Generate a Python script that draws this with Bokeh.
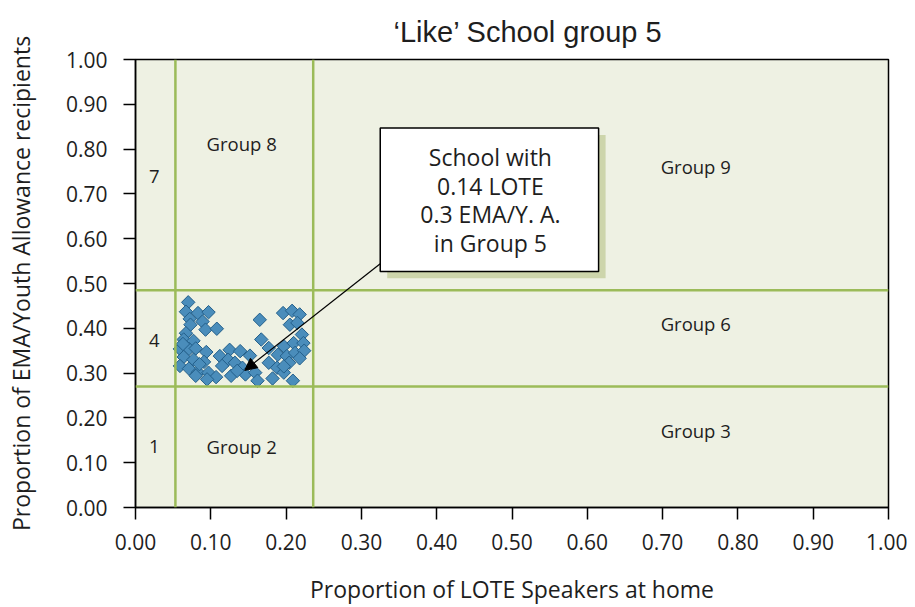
from bokeh.plotting import figure
from bokeh.models import (Range1d, FixedTicker, NumeralTickFormatter, Span, Arrow,
                          NormalHead, ColumnDataSource)
from bokeh.core.properties import value
from bokeh.embed import file_html
from bokeh.resources import INLINE

# ---- data ----
lote = [0.070, 0.067, 0.083, 0.097, 0.072, 0.089, 0.093, 0.108, 0.073, 0.067,
        0.064, 0.077, 0.059, 0.071, 0.080, 0.094, 0.064, 0.077, 0.091, 0.059,
        0.071, 0.083, 0.097, 0.107, 0.095, 0.080, 0.112, 0.125, 0.139, 0.152,
        0.123, 0.115, 0.132, 0.142, 0.127, 0.146, 0.159, 0.162, 0.165, 0.167,
        0.177, 0.177, 0.188, 0.182, 0.197, 0.209, 0.196, 0.208, 0.218, 0.205,
        0.215, 0.221, 0.197, 0.210, 0.223, 0.189, 0.201, 0.212, 0.224, 0.218,
        0.204, 0.063, 0.085, 0.135, 0.197]
ema = [0.458, 0.437, 0.434, 0.436, 0.421, 0.415, 0.397, 0.399, 0.408, 0.389,
       0.375, 0.372, 0.354, 0.354, 0.355, 0.347, 0.336, 0.330, 0.325, 0.316,
       0.310, 0.302, 0.301, 0.291, 0.286, 0.294, 0.338, 0.352, 0.349, 0.339,
       0.330, 0.316, 0.323, 0.312, 0.294, 0.297, 0.301, 0.283, 0.419, 0.375,
       0.356, 0.323, 0.312, 0.288, 0.301, 0.283, 0.434, 0.439, 0.431, 0.408,
       0.412, 0.386, 0.360, 0.367, 0.367, 0.341, 0.338, 0.345, 0.350, 0.333,
       0.323, 0.365, 0.320, 0.305, 0.315]

lote_cuts = [0.053, 0.236]
ema_cuts = [0.27, 0.485]

region_labels = ["Group 8", "7", "Group 9", "4", "Group 6", "1", "Group 2", "Group 3"]
region_x = [0.141, 0.025, 0.744, 0.025, 0.744, 0.025, 0.141, 0.744]
region_y = [0.812, 0.739, 0.761, 0.372, 0.411, 0.137, 0.137, 0.171]

tick_values = [0.0, 0.1, 0.2, 0.3, 0.4, 0.5, 0.6, 0.7, 0.8, 0.9, 1.0]

callout_lines = ["School with", "0.14 LOTE", "0.3 EMA/Y. A.", "in Group 5"]
callout_box = dict(left=0.325, right=0.615, top=0.847, bottom=0.527)
callout_point = (0.145, 0.306)

FONT = "Open Sans"
TXT = "#1e1e1e"

p = figure(width=907, height=607, output_backend="svg", toolbar_location=None,
           x_range=Range1d(0, 1), y_range=Range1d(0, 1),
           min_border_left=135, min_border_right=19, min_border_top=59, min_border_bottom=96,
           title="\u2018Like\u2019 School group 5")
p.background_fill_color = "#eef1e3"
p.border_fill_color = "white"
p.outline_line_color = "black"
p.outline_line_width = 1.5
p.grid.visible = False

p.title.align = "left"
p.title.offset = 258
p.title.text_font = "Liberation Sans"
p.title.text_font_size = "29px"
p.title.text_font_style = "normal"
p.title.text_color = TXT
p.title.standoff = 24

for ax in (p.xaxis[0], p.yaxis[0]):
    ax.ticker = FixedTicker(ticks=tick_values)
    ax.formatter = NumeralTickFormatter(format="0.00")
    ax.minor_tick_line_color = None
    ax.major_tick_out = 12
    ax.major_tick_in = 0
    ax.major_tick_line_color = "black"
    ax.major_tick_line_width = 1.5
    ax.axis_line_color = "black"
    ax.axis_line_width = 1.5
    ax.major_label_text_font = FONT
    ax.major_label_text_font_size = "21px"
    ax.major_label_text_color = TXT
    ax.axis_label_text_font = FONT
    ax.axis_label_text_font_size = "23px"
    ax.axis_label_text_font_style = "normal"
    ax.axis_label_text_color = TXT

p.xaxis.axis_label = "Proportion of LOTE Speakers at home"
p.yaxis.axis_label = "Proportion of EMA/Youth Allowance recipients"
p.xaxis.major_label_standoff = 14
p.yaxis.major_label_standoff = 16
p.xaxis.axis_label_standoff = 20
p.yaxis.axis_label_standoff = 26

# cut lines
for c in lote_cuts:
    p.add_layout(Span(location=c, dimension="height", line_color="#9bbb59", line_width=2.5))
for c in ema_cuts:
    p.add_layout(Span(location=c, dimension="width", line_color="#9bbb59", line_width=2.5))

# region labels
p.text(x=region_x, y=region_y, text=region_labels, text_font=value(FONT),
       text_font_size="18.5px", text_align="center", text_baseline="middle",
       text_color=TXT)

# scatter
src = ColumnDataSource(dict(x=lote, y=ema))
p.scatter("x", "y", source=src, marker="square", size=9.5, angle=0.785398,
          fill_color="#4a8dbb", line_color="#235f8a", line_width=1)

# callout shadow + box
sx = 7 / 753
sy = 7 / 452
p.quad(left=[callout_box["left"] + sx], right=[callout_box["right"] + sx],
       top=[callout_box["top"] - sy], bottom=[callout_box["bottom"] - sy],
       fill_color="#cdd5ab", line_color=None)
p.quad(left=[callout_box["left"]], right=[callout_box["right"]],
       top=[callout_box["top"]], bottom=[callout_box["bottom"]],
       fill_color="white", line_color="black", line_width=1.5)

cx = (callout_box["left"] + callout_box["right"]) / 2 + 1 / 753
line_step = 29 / 452
top_line = callout_box["top"] - 29 / 452
p.text(x=[cx] * len(callout_lines),
       y=[top_line - i * line_step for i in range(len(callout_lines))],
       text=callout_lines, text_font=value(FONT), text_font_size="23px",
       text_align="center", text_baseline="middle", text_color=TXT)

p.add_layout(Arrow(end=NormalHead(size=12, fill_color="black", line_color="black"),
                   x_start=callout_box["left"], y_start=callout_box["bottom"] + 0.017,
                   x_end=callout_point[0], y_end=callout_point[1],
                   line_color="black", line_width=1.2))

open("out.html", "w").write(file_html(p, INLINE))
